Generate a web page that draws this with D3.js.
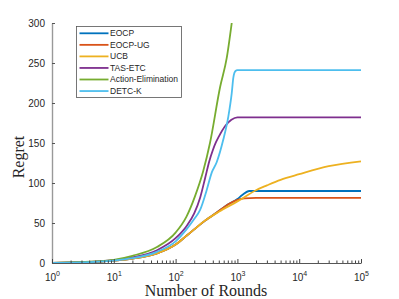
<!DOCTYPE html>
<html>
<head>
<meta charset="utf-8">
<script src="https://cdn.jsdelivr.net/npm/d3@7"></script>
<style>
  body { margin: 0; background: #fff; }
  svg { display: block; }
</style>
</head>
<body>
<svg width="399" height="299"></svg>
<script>
// names of the algorithms (legend order)
var names = ["EOCP", "EOCP-UG", "UCB", "TAS-ETC", "Action-Elimination", "DETC-K"];
var colors = ["#0072BD", "#D95319", "#EDB120", "#7E2F8E", "#77AC30", "#4DBEEE"];

var eocp = [[1,0],[2,0.5],[5,1.5],[10,3],[20,5.5],[50,12],[100,23],[150,34],[200,42],[300,53],[500,65],[700,73],[1000,80],[1200,85],[1550,90],[2000,90],[100000,90]];
var eocpUG = [[1,0],[2,0.5],[5,1.5],[10,3],[20,5.5],[50,12],[100,23],[150,34],[200,42],[300,53],[500,65],[700,73],[1000,79],[1300,80.8],[2000,81.3],[100000,81.5]];
var ucb = [[1,0],[2,0.5],[5,1.5],[10,3],[20,5.5],[50,12],[100,23],[150,34],[200,42],[300,53],[500,64],[1000,77],[2000,91],[3000,97],[5000,104],[10000,111],[30000,121],[100000,127]];
var tasEtc = [[1,0],[2,0.5],[5,1.8],[10,3.5],[20,7],[50,16],[100,31],[150,46],[200,62],[250,82],[300,106],[350,127],[400,141],[450,151],[500,158],[630,171],[800,179],[1000,182],[1500,182],[100000,182]];
var actionElim = [[1,0],[2,0.6],[5,2],[10,4],[20,9],[50,20],[100,38],[150,58],[205,83],[280,115],[360,150],[525,220],[671,256],[809,300]];
var detcK = [[1,0],[2,0.3],[5,1.5],[10,3],[20,6],[50,14],[100,27],[150,42],[200,55],[248,66],[318,91],[384,113],[462,126],[590,154],[713,183],[809,212],[861,232],[930,240],[1000,241],[100000,241]];
var series = [eocp, eocpUG, ucb, tasEtc, actionElim, detcK];

// ticks
var yTicks = [0, 50, 100, 150, 200, 250, 300];
var xTicks = [1, 10, 100, 1000, 10000, 100000];
var xMinor = [];
for (var k = 0; k < 5; k++) {
  for (var m = 2; m <= 9; m++) xMinor.push(m * Math.pow(10, k));
}

var svg = d3.select("svg");
var txt = "#262626";

var x = d3.scaleLog().domain([1, 100000]).range([52, 361]);
var y = d3.scaleLinear().domain([0, 300]).range([263, 23]);

// courbes
var line = d3.line()
  .x(function(d) { return x(d[0]); })
  .y(function(d) { return y(d[1]); })
  .curve(d3.curveMonotoneX);

svg.append("g").selectAll("path")
  .data(series)
  .enter()
  .append("path")
  .attr("fill", "none")
  .attr("stroke", function(d, i) { return colors[i]; })
  .attr("stroke-width", 1.8)
  .attr("d", line);

// axe y
var yAxis = svg.append("g")
  .attr("transform", "translate(52,0)")
  .call(d3.axisLeft(y).tickValues(yTicks).tickSizeInner(-3).tickSizeOuter(0).tickPadding(7));
yAxis.select(".domain").attr("stroke", "#999").attr("stroke-width", 1.4);
yAxis.selectAll(".tick line").attr("stroke", "#555");
yAxis.selectAll("text")
  .attr("fill", txt)
  .style("font-family", "Liberation Sans, Arial, sans-serif")
  .style("font-size", "10px");

// axe x : minor ticks
var xMinorAxis = svg.append("g")
  .attr("transform", "translate(0,263)")
  .call(d3.axisBottom(x).tickValues(xMinor).tickFormat("").tickSizeInner(-2.5).tickSizeOuter(0));
xMinorAxis.select(".domain").remove();
xMinorAxis.selectAll(".tick line").attr("stroke", "#444");

// axe x : major ticks
var xAxis = svg.append("g")
  .attr("transform", "translate(0,263)")
  .call(d3.axisBottom(x).tickValues(xTicks).tickFormat("").tickSizeInner(-4).tickSizeOuter(0));
xAxis.select(".domain").attr("stroke", "#555").attr("stroke-width", 1);
xAxis.selectAll(".tick line").attr("stroke", "#444");

var lab = xAxis.selectAll(".tick")
  .append("text")
  .attr("y", 17.5)
  .attr("text-anchor", "middle")
  .attr("fill", txt)
  .style("font-family", "Liberation Sans, Arial, sans-serif")
  .style("font-size", "10px");
lab.append("tspan").text("10");
lab.append("tspan")
  .attr("dy", -5)
  .style("font-size", "7px")
  .text(function(d) { return Math.round(Math.log10(d)); });

// titres des axes
svg.append("text")
  .attr("x", 206)
  .attr("y", 296)
  .attr("text-anchor", "middle")
  .attr("fill", txt)
  .style("font-family", "Liberation Serif, Times New Roman, serif")
  .style("font-size", "16px")
  .text("Number of Rounds");

svg.append("text")
  .attr("transform", "translate(24,157) rotate(-90)")
  .attr("text-anchor", "middle")
  .attr("fill", txt)
  .style("font-family", "Liberation Serif, Times New Roman, serif")
  .style("font-size", "16px")
  .text("Regret");

// legende
var legend = svg.append("g");
legend.append("rect")
  .attr("x", 76.5)
  .attr("y", 26.5)
  .attr("width", 105)
  .attr("height", 71)
  .attr("fill", "#fff")
  .attr("stroke", "#555")
  .attr("stroke-width", 0.8);

var item = legend.selectAll(".item")
  .data(names)
  .enter()
  .append("g")
  .attr("class", "item")
  .attr("transform", function(d, i) { return "translate(0," + (33.3 + i * 11.55) + ")"; });

item.append("line")
  .attr("x1", 79.5)
  .attr("x2", 108.5)
  .attr("stroke", function(d, i) { return colors[i]; })
  .attr("stroke-width", 1.8);

item.append("text")
  .attr("x", 110)
  .attr("dy", "0.35em")
  .attr("fill", txt)
  .style("font-family", "Liberation Sans, Arial, sans-serif")
  .style("font-size", "8.5px")
  .text(function(d) { return d; });
</script>
</body>
</html>
